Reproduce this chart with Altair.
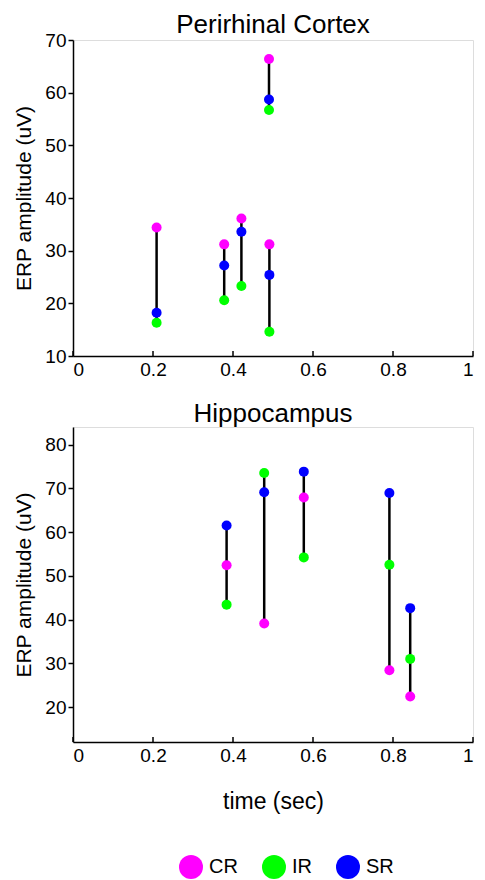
import altair as alt
import pandas as pd

types = ["CR", "IR", "SR"]
colors = ["#ff00ff", "#00ff00", "#0000ff"]

peri_time = [0.209, 0.378, 0.421, 0.490, 0.491]
peri_CR = [34.4, 31.2, 36.1, 66.4, 31.2]
peri_IR = [16.3, 20.6, 23.3, 56.7, 14.6]
peri_SR = [18.2, 27.2, 33.6, 58.7, 25.4]

hipp_time = [0.384, 0.478, 0.577, 0.791, 0.843]
hipp_CR = [52.4, 39.1, 67.9, 28.4, 22.4]
hipp_IR = [43.4, 73.5, 54.2, 52.5, 31.0]
hipp_SR = [61.5, 69.1, 73.8, 68.9, 42.6]

x_ticks = [0, 0.2, 0.4, 0.6, 0.8, 1]
peri_yticks = [10, 20, 30, 40, 50, 60, 70]
hipp_yticks = [20, 30, 40, 50, 60, 70, 80]

FONT = "Liberation Sans"


def long_df(times, cr, ir, sr):
    rows = []
    for i, t in enumerate(times):
        for typ, vals in zip(types, [cr, ir, sr]):
            rows.append({"g": i, "time": t, "type": typ, "value": vals[i]})
    return pd.DataFrame(rows)


def panel(df, title, ydom, yvals, w, h, xtitle, toff):
    xaxis_kw = dict(values=x_ticks, format="~g", ticks=False, labelPadding=4,
                    labelFontSize=19, labelFont=FONT, domainColor="black",
                    domainWidth=1.5, labelColor="black", grid=False)
    if xtitle:
        xaxis_kw.update(title=xtitle, titleFontSize=23, titleFont=FONT,
                        titleFontWeight="normal", titlePadding=25, titleColor="black")
    else:
        xaxis_kw.update(title="")
    x = alt.X("time:Q", scale=alt.Scale(domain=[0, 1], nice=False, zero=False),
              axis=alt.Axis(**xaxis_kw))
    yscale = alt.Scale(domain=ydom, nice=False, zero=False)
    yaxis = alt.Axis(values=yvals, title="ERP amplitude (uV)", titleFontSize=21,
                     titleFont=FONT, titleFontWeight="normal", titlePadding=10,
                     titleColor="black", labelFontSize=19, labelFont=FONT,
                     labelColor="black", tickSize=5, tickColor="black",
                     tickWidth=1.5, domainColor="black", domainWidth=1.5,
                     labelPadding=2, grid=False)
    base = alt.Chart(df)
    rules = base.mark_rule(color="black", strokeWidth=2.5).encode(
        x=x, y=alt.Y("min(value):Q", scale=yscale, axis=yaxis),
        y2=alt.Y2("max(value):Q"), detail="g:N")
    pts = base.mark_circle(size=100, opacity=1).encode(
        x="time:Q", y="value:Q",
        color=alt.Color("type:N", scale=alt.Scale(domain=types, range=colors),
                        legend=alt.Legend(orient="none", legendX=106, legendY=815,
                                          direction="horizontal", title=None,
                                          symbolType="circle", symbolSize=576,
                                          symbolStrokeWidth=0, labelFontSize=20,
                                          labelFont=FONT, labelColor="black",
                                          columnPadding=24, labelOffset=6,
                                          padding=0)))
    xt = alt.Chart(pd.DataFrame({"t": x_ticks})).mark_rule(
        color="black", strokeWidth=1.5).encode(
        x="t:Q", y=alt.value(h), y2=alt.value(h - 5))
    return alt.layer(rules, pts, xt).properties(
        width=w, height=h,
        title=alt.TitleParams(title, fontSize=26, font=FONT, fontWeight="normal",
                              color="black", offset=toff))


top = panel(long_df(peri_time, peri_CR, peri_IR, peri_SR), "Perirhinal Cortex",
            [10, 70], peri_yticks, 400, 316, None, -7)
bottom = panel(long_df(hipp_time, hipp_CR, hipp_IR, hipp_SR), "Hippocampus",
               [12, 84], hipp_yticks, 400, 315, "time (sec)", 0)

chart = alt.vconcat(top, bottom, spacing=20).properties(
    padding={"left": 5, "top": 3, "right": 0, "bottom": 0}
).configure_view(stroke=None).configure(background="white")

chart.save("out.html", embed_options={"renderer": "svg", "actions": False})
